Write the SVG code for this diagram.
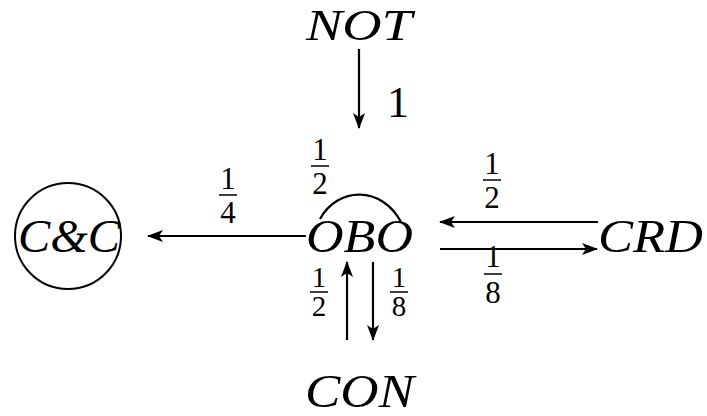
<svg xmlns="http://www.w3.org/2000/svg" width="707" height="416" viewBox="0 0 707 416">
<defs>
<marker id="ah" markerWidth="16" markerHeight="12" refX="15" refY="6" orient="auto" markerUnits="userSpaceOnUse">
<path d="M0,0 L16,6 L0,12 L4,6 Z" fill="#000"/>
</marker>
<style>
.lbl{font-family:"Liberation Serif",serif;font-style:italic;font-size:46px;fill:#000}
.num{font-family:"Liberation Serif",serif;font-size:31px;fill:#000;text-anchor:middle}
.sm{font-size:29px}
.bar{stroke:#000;stroke-width:1.5}
.edge{stroke:#000;stroke-width:2.2;fill:none}
</style>
</defs>
<rect width="707" height="416" fill="#fff"/>
<g id="NOT"><text class="lbl" x="306" y="40" textLength="106" lengthAdjust="spacingAndGlyphs" style="font-size:45px">NOT</text></g>
<g id="OBO"><text class="lbl" x="306" y="252" textLength="107" lengthAdjust="spacingAndGlyphs">OBO</text></g>
<g id="CC"><circle cx="68" cy="236" r="53" fill="none" stroke="#000" stroke-width="2"/><text class="lbl" x="18" y="252" textLength="102" lengthAdjust="spacingAndGlyphs">C&amp;C</text></g>
<g id="CRD"><text class="lbl" x="598" y="252" textLength="105" lengthAdjust="spacingAndGlyphs">CRD</text></g>
<g id="CON"><text class="lbl" x="305" y="407" textLength="109" lengthAdjust="spacingAndGlyphs">CON</text></g>
<g id="connectors">
<line class="edge" x1="359" y1="49" x2="359" y2="128" marker-end="url(#ah)"/>
<text class="num" x="398" y="117" style="font-size:44px">1</text>
<path class="edge" d="M320,219 C338,186 382,186 401,222"/>
<text class="num" x="320" y="160">1</text><line class="bar" x1="311" y1="166" x2="329" y2="166"/><text class="num" x="320" y="194">2</text>
<line class="edge" x1="306" y1="236" x2="148" y2="236" marker-end="url(#ah)"/>
<text class="num" x="228" y="189">1</text><line class="bar" x1="219" y1="195" x2="237" y2="195"/><text class="num" x="228" y="223">4</text>
<line class="edge" x1="598" y1="222" x2="440" y2="222" marker-end="url(#ah)"/>
<text class="num" x="492" y="174">1</text><line class="bar" x1="483" y1="180" x2="501" y2="180"/><text class="num" x="492" y="208">2</text>
<line class="edge" x1="440" y1="249" x2="597" y2="249" marker-end="url(#ah)"/>
<text class="num" x="493" y="267">1</text><line class="bar" x1="484" y1="274" x2="502" y2="274"/><text class="num" x="493" y="303">8</text>
<line class="edge" x1="347" y1="340" x2="347" y2="262" marker-end="url(#ah)"/>
<line class="edge" x1="373" y1="262" x2="373" y2="340" marker-end="url(#ah)"/>
<text class="num sm" x="319" y="287">1</text><line class="bar" x1="310" y1="292" x2="328" y2="292"/><text class="num sm" x="319" y="316">2</text>
<text class="num sm" x="399" y="287">1</text><line class="bar" x1="390" y1="292" x2="408" y2="292"/><text class="num sm" x="399" y="316">8</text>
</g>
</svg>
